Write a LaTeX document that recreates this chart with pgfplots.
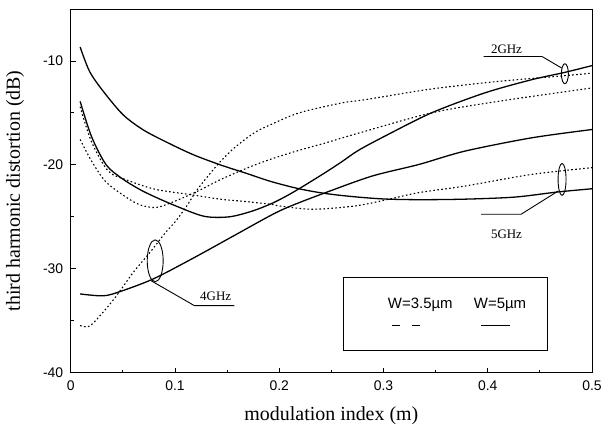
\documentclass[border=0pt]{standalone}
\usepackage{fontspec}
\setmainfont{Liberation Serif}
\setsansfont{Liberation Sans}
\usepackage{pgfplots}
\pgfplotsset{compat=1.18}
\begin{document}
\begin{tikzpicture}
\begin{axis}[
  scale only axis, width=523pt, height=365pt,
  xmin=0, xmax=0.5, ymin=-40, ymax=-5,
  xtick={0,0.1,0.2,0.3,0.4,0.5}, xticklabels={0,0.1,0.2,0.3,0.4,0.5},
  minor xtick={0.05,0.15,0.25,0.35,0.45},
  ytick={-40,-30,-20,-10}, yticklabels={-40,-30,-20,-10},
  minor ytick={-35,-25,-15},
  tick pos=left, tick align=inside,
  major tick length=5pt, minor tick length=3pt,
  tick style={black, line width=0.8pt},
  axis line style={line width=0.9pt},
  ticklabel style={font=\sffamily\fontsize{14}{16}\selectfont},
  xticklabel style={yshift=-5pt},
  yticklabel style={xshift=-4pt},
  xlabel={modulation index (m)},
  ylabel={third harmonic distortion (dB)},
  every axis x label/.style={at={(axis description cs:0.5,-0.118)}, anchor=center, font=\fontsize{20}{22}\selectfont},
  every axis y label/.style={at={(axis description cs:-0.107,0.5)}, rotate=90, anchor=center, font=\fontsize{20}{22}\selectfont},
  solidc/.style={black, line width=1.3pt, smooth, tension=0.5},
  dotc/.style={black, line width=1.1pt, dash pattern=on 1.6pt off 2.4pt, smooth, tension=0.5},
]
% solid A (5GHz)
\addplot[solidc] coordinates {
(0.009,-8.66) (0.018,-11.0) (0.031,-12.9) (0.050,-15.16) (0.069,-16.6)
(0.090,-17.72) (0.117,-19.0) (0.144,-20.02) (0.168,-20.8) (0.192,-21.6)
(0.219,-22.3) (0.244,-22.75) (0.270,-23.05) (0.300,-23.28) (0.334,-23.35)
(0.378,-23.3) (0.426,-23.1) (0.467,-22.61) (0.500,-22.3)};
% solid B (2GHz)
\addplot[solidc] coordinates {
(0.009,-13.89) (0.020,-17.3) (0.034,-20.0) (0.049,-21.3) (0.065,-22.3)
(0.079,-23.0) (0.101,-23.96) (0.128,-24.95) (0.152,-25.0) (0.174,-24.45)
(0.192,-23.75) (0.205,-23.1) (0.219,-22.3) (0.244,-20.75) (0.260,-19.7)
(0.276,-18.6) (0.302,-17.2) (0.346,-15.0) (0.397,-13.08) (0.442,-11.81)
(0.474,-11.1) (0.500,-10.45)};
% solid C (4GHz)
\addplot[solidc] coordinates {
(0.009,-32.42) (0.031,-32.6) (0.047,-32.2) (0.079,-30.98) (0.117,-29.0)
(0.155,-26.9) (0.193,-24.8) (0.2125,-23.9) (0.2445,-22.67) (0.289,-21.08)
(0.334,-19.96) (0.378,-18.68) (0.442,-17.4) (0.500,-16.6)};
% dotted P
\addplot[dotc] coordinates {
(0.009,-35.46) (0.018,-35.52) (0.031,-34.18) (0.044,-32.58) (0.060,-30.34)
(0.076,-28.42) (0.091,-26.5) (0.100,-25.5) (0.111,-24.0) (0.122,-22.3)
(0.141,-19.96) (0.157,-18.36) (0.176,-16.92) (0.192,-16.12) (0.219,-15.0)
(0.260,-14.04) (0.283,-13.72) (0.346,-12.7) (0.410,-11.97) (0.474,-11.42)
(0.500,-11.17)};
% dotted R
\addplot[dotc] coordinates {
(0.009,-17.56) (0.020,-19.64) (0.033,-21.56) (0.049,-22.83) (0.065,-23.79)
(0.081,-24.11) (0.0966,-23.63) (0.122,-22.52) (0.144,-21.4) (0.170,-20.27)
(0.192,-19.45) (0.219,-18.6) (0.244,-17.9) (0.276,-16.95) (0.346,-15.0)
(0.410,-13.89) (0.500,-12.6)};
% dotted S
\addplot[dotc] coordinates {
(0.009,-14.4) (0.020,-17.8) (0.036,-20.6) (0.055,-21.5) (0.081,-22.35)
(0.1125,-22.83) (0.144,-23.31) (0.1616,-23.47) (0.192,-23.79) (0.200,-23.95)
(0.232,-24.27) (0.273,-23.95) (0.305,-23.31) (0.334,-22.67) (0.378,-22.04)
(0.442,-20.92) (0.500,-20.27)};
% annotations
\draw[line width=0.9pt] (axis cs:0.474,-11.23) ellipse [x radius=3.5pt, y radius=10pt];
\draw[line width=0.9pt] (axis cs:0.471,-10.69) -- (axis cs:0.452,-9.57) -- (axis cs:0.396,-9.57);
\node[font=\fontsize{13}{15}\selectfont] at (axis cs:0.418,-8.85) {2GHz};
\draw[line width=0.9pt] (axis cs:0.4713,-21.4) ellipse [x radius=4pt, y radius=16pt];
\draw[line width=0.9pt] (axis cs:0.4675,-22.52) -- (axis cs:0.432,-24.75) -- (axis cs:0.3936,-24.75);
\node[font=\fontsize{13}{15}\selectfont] at (axis cs:0.418,-26.67) {5GHz};
\draw[line width=0.9pt] (axis cs:0.081,-29.23) ellipse [x radius=8pt, y radius=21pt];
\draw[line width=0.9pt] (axis cs:0.0771,-31.15) -- (axis cs:0.1185,-33.54) -- (axis cs:0.157,-33.54);
\node[font=\fontsize{13}{15}\selectfont] at (axis cs:0.139,-32.68) {4GHz};
% legend box
\draw[line width=1pt, fill=white] (axis cs:0.2613,-30.82) rectangle (axis cs:0.4573,-37.86);
\node[font=\sffamily\fontsize{15}{17}\selectfont] at (axis cs:0.3353,-33.5) {W=3.5µm};
\node[font=\sffamily\fontsize{15}{17}\selectfont] at (axis cs:0.4118,-33.5) {W=5µm};
\draw[line width=1pt] (axis cs:0.3081,-35.46) -- (axis cs:0.3161,-35.46);
\draw[line width=1pt] (axis cs:0.3273,-35.46) -- (axis cs:0.3353,-35.46);
\draw[line width=1pt] (axis cs:0.3939,-35.46) -- (axis cs:0.4213,-35.46);
\end{axis}
\path ([shift={(-71pt,-52pt)}]current axis.south west) rectangle ([shift={(11pt,9pt)}]current axis.north east);
\end{tikzpicture}
\end{document}
